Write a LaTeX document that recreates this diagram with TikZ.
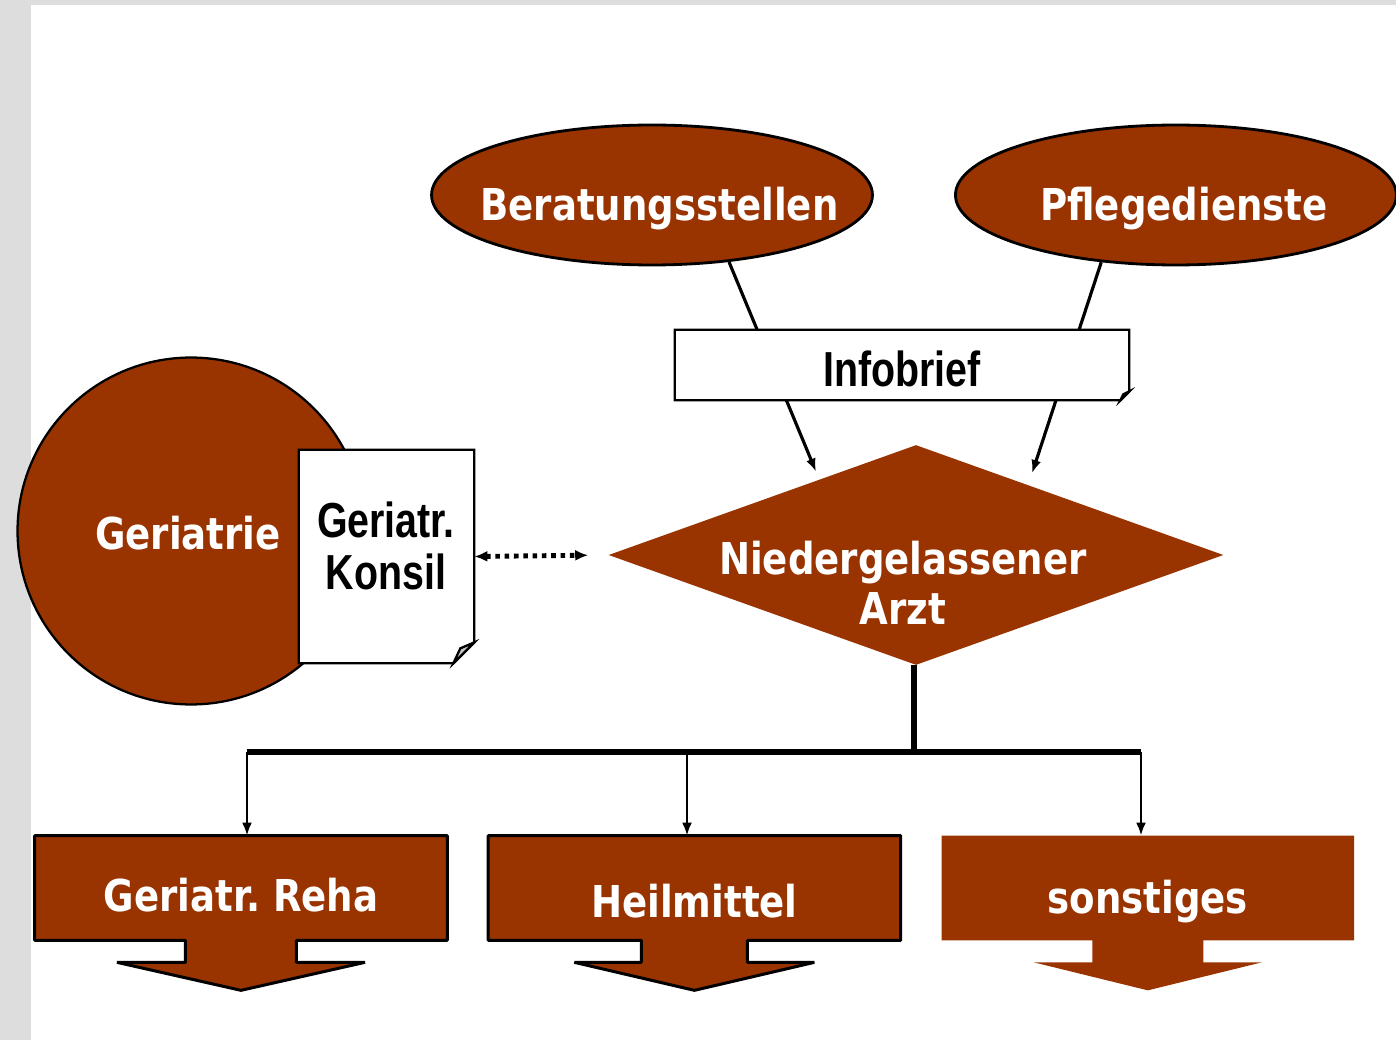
\documentclass[tikz,border=0pt]{standalone}
\usepackage{fontspec}
\newfontfamily\labelfont[FakeStretch=0.845]{DejaVu Sans}
\newfontfamily\notefont[FakeStretch=0.8]{Liberation Sans}
\usepackage{tikz}
\usetikzlibrary{shapes.geometric,arrows.meta,positioning,backgrounds}
\definecolor{rust}{HTML}{993300}
\definecolor{slide}{HTML}{DDDDDD}
\definecolor{fold}{HTML}{C8C8C8}
\frenchspacing

\begin{document}
\begin{tikzpicture}[x=0.02cm,y=-0.02cm,on grid,>={Latex[length=0.26cm,width=0.2cm]},
    wtext/.style={text=white,font=\labelfont\bfseries\fontsize{25}{28.4}\selectfont},
    btext/.style={text=black,font=\notefont\bfseries\fontsize{28}{29.5}\selectfont},
    bubble/.style={ellipse,wtext,draw,line width=1.6pt,fill=rust,minimum width=8.82cm,minimum height=2.8cm,text height=29.6pt,text depth=0pt},
    ball/.style={circle,wtext,draw,line width=1.3pt,fill=rust,minimum size=6.94cm,text height=21pt,text depth=0pt},
    rhomb/.style={diamond,fill=rust,minimum width=12.3cm,minimum height=4.4cm,inner sep=0pt},
    sheet/.style={rectangle,fill=white,inner sep=0pt},
    sheetline/.style={line width=1.3pt,line join=miter},
    dropbox/.style={rectangle,wtext,minimum width=8.24cm,minimum height=2.08cm,inner sep=0pt,text depth=0pt},
    dropline/.style={fill=rust,draw=black,line width=1.7pt,line join=bevel},
    link/.style={->,line width=1.8pt},
    trunk/.style={line width=3pt},
    twig/.style={->,line width=1.6pt},
    dotlink/.style={{Latex[length=0.26cm,width=0.22cm]}-{Latex[length=0.26cm,width=0.22cm]},line width=2.8pt,dash pattern=on 2.6pt off 2.7pt}]
\useasboundingbox (0,0) rectangle (1396,1040);
% the two sources on top and the doctor in the middle
   \node[bubble] (beratung) at (652,195) {\makebox[0pt]{\hspace*{0.3cm}Beratungsstellen}};
   \node[bubble] (pflege) [right=10.48cm of beratung] {\makebox[0pt]{\hspace*{0.32cm}Pflegedienste}};
   \node[rhomb] (arzt) at (916,555) {};
   \node[wtext,align=center] (arzttext) at (903,583) {Niedergelassener\\Arzt};
% the letters run behind the Infobrief sheet
    \path[link]
    (beratung.-41) edge[shorten >=0.17cm] (arzt.142.6)
    (pflege.-138.2) edge[shorten >=0.25cm] (arzt.32.8);
   \node[sheet,btext,minimum width=9.08cm,minimum height=1.4cm,text height=25pt,text depth=0pt] (infobrief) at (902,365) {Infobrief};
   \draw[sheetline] (infobrief.north west) -- (infobrief.north east) -- ([yshift=0.18cm]infobrief.south east) -- ([xshift=-0.18cm]infobrief.south east) -- (infobrief.south west) -- cycle;
   \filldraw[sheetline,fill=fold] ([yshift=0.18cm]infobrief.south east) -- ([xshift=-0.18cm]infobrief.south east) -- ([xshift=-0.12cm,yshift=0.12cm]infobrief.south east) -- cycle;
% the clinic with its consultation sheet
   \node[ball] (geriatrie) at (191,531) {\makebox[0pt]{\hspace*{-0.12cm}Geriatrie}};
   \node[sheet,minimum width=3.5cm,minimum height=4.26cm] (konsil) at (386.5,556.5) {};
   \draw[sheetline] (konsil.north west) -- (konsil.north east) -- ([yshift=0.42cm]konsil.south east) -- ([xshift=-0.42cm]konsil.south east) -- (konsil.south west) -- cycle;
   \filldraw[sheetline,fill=fold] ([yshift=0.42cm]konsil.south east) -- ([xshift=-0.42cm]konsil.south east) -- ([xshift=-0.28cm,yshift=0.3cm]konsil.south east) -- cycle;
   \node[btext,align=center] (konsiltext) at (386,546) {Geriatr.\\Konsil};
   \draw[dotlink,shorten >=0.4cm] (konsil.east) -- (arzt.west);
% what the doctor prescribes
   \node[dropbox,text height=27.2pt] (reha) at (241,888) {Geriatr. Reha};
   \node[dropbox,text height=34pt] (heil) [right=9.07cm of reha] {Heilmittel};
   \node[dropbox,text height=28.8pt] (sonst) [right=9.07cm of heil] {sonstiges};
   \coordinate (fork) at (914,752);
   \coordinate (b1) at (247,752);
   \coordinate (b2) at (687,752);
   \coordinate (b3) at (1141,752);
   \draw[trunk] (fork |- arzt.south) -- (fork);
   \draw[trunk] (b1) -- (b3);
    \path[twig]
    (b1) edge (b1 |- reha.north)
    (b2) edge (b2 |- heil.north)
    (b3) edge (b3 |- sonst.north);
\begin{scope}[on background layer]
   \fill[slide] (0,0) rectangle (1396,1040);
   \fill[white] (31,5) rectangle (1396,1040);
   \filldraw[dropline] (reha.north west) -- (reha.north east) -- (reha.south east) -- ([xshift=1.11cm]reha.south) -- ++(0,22) -- ++(68.5,0) -- ++(-124,28) -- ++(-124,-28) -- ++(68.5,0) -- ++(0,-22) -- (reha.south west) -- cycle;
   \filldraw[dropline] (heil.north west) -- (heil.north east) -- (heil.south east) -- ([xshift=1.06cm]heil.south) -- ++(0,22) -- ++(67,0) -- ++(-120,28) -- ++(-120,-28) -- ++(67,0) -- ++(0,-22) -- (heil.south west) -- cycle;
   \fill[rust] (sonst.north west) -- (sonst.north east) -- (sonst.south east) -- ([xshift=1.11cm]sonst.south) -- ++(0,22) -- ++(58.5,0) -- ++(-114,28) -- ++(-114,-28) -- ++(58.5,0) -- ++(0,-22) -- (sonst.south west) -- cycle;
\end{scope}
\end{tikzpicture}
\end{document}
